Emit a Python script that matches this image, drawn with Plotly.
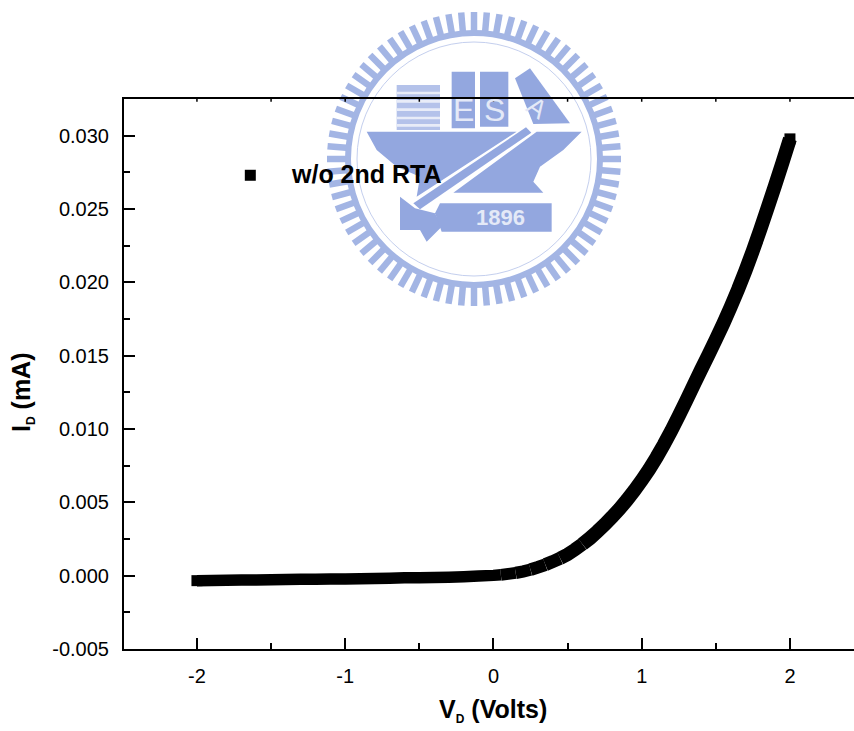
import math
import plotly.graph_objects as go

# ---- data ----
V_curve = [-2.0,-1.9,-1.8,-1.7,-1.6,-1.5,-1.4,-1.3,-1.2,-1.1,-1.0,-0.9,-0.8,-0.7,-0.6,-0.5,-0.4,-0.3,-0.2,-0.1,
           0.00,0.05,0.10,0.15,0.20,0.25,0.30,0.35,0.40,0.45,0.50,0.55,0.60,0.65,0.70,0.75,0.80,0.85,0.90,0.95,
           1.00,1.05,1.10,1.15,1.20,1.25,1.30,1.35,1.40,1.45,1.50,1.55,1.60,1.65,1.70,1.75,1.80,1.85,1.90,1.95,2.00]
I_curve = [-0.00034,-0.00033,-0.00032,-0.00030,-0.00029,-0.00027,-0.00026,-0.00025,-0.00024,-0.00023,-0.00022,
           -0.00021,-0.00019,-0.00017,-0.00015,-0.00014,-0.00012,-0.00010,-0.00007,-0.00003,
           0.00002,0.00006,0.00012,0.00019,0.00028,0.00041,0.00057,0.00075,0.00096,0.00119,0.00145,0.00178,0.00215,
           0.00255,0.00300,0.00348,0.00400,0.00455,0.00515,0.00580,0.00650,0.00725,0.00807,0.00895,0.00989,0.01089,
           0.01193,0.01298,0.01403,0.01505,0.01610,0.01718,0.01832,0.01952,0.02080,0.02216,0.02360,0.02510,0.02662,
           0.02818,0.02978]
x_ticks = [-2,-1,0,1,2]
x_tick_text = ["-2","-1","0","1","2"]
x_minor = [-1.5,-0.5,0.5,1.5]
x_top_ticks = [-2.0,-1.5,-1.0,-0.5,0,0.5,1.0,1.5,2.0]
y_ticks = [-0.005,0.000,0.005,0.010,0.015,0.020,0.025,0.030]
y_tick_text = ["-0.005","0.000","0.005","0.010","0.015","0.020","0.025","0.030"]
y_minor = [-0.0025,0.0025,0.0075,0.0125,0.0175,0.0225,0.0275,0.0325]
legend_label = "w/o 2nd RTA"
legend_x, legend_y = [-1.64], [0.0273]

L, R, T, B = 124, 854, 99, 649
FONT = "Liberation Sans"
WM = "#93a7df"
WM2 = "#a3b5e4"

def fx(x): return (x - L) / (R - L)
def fy(y): return (B - y) / (B - T)

shapes, annos = [], []

def poly(points, color):
    """points in zoom-crop coordinates of the seal"""
    pts = [(fx(320 + a / 3), fy(b / 3)) for a, b in points]
    d = "M " + " L ".join(f"{a:.5f} {b:.5f}" for a, b in pts) + " Z"
    shapes.append(dict(type="path", path=d, xref="paper", yref="paper", fillcolor=color,
                       line=dict(width=0), layer="below"))

# seal: gear teeth
cx, cy = 474, 159
N = 72
for k in range(N):
    a = 2 * math.pi * k / N
    shapes.append(dict(type="line", xref="paper", yref="paper", layer="below",
                       x0=fx(cx + 125 * math.cos(a)), y0=fy(cy + 125 * math.sin(a)),
                       x1=fx(cx + 147 * math.cos(a)), y1=fy(cy + 147 * math.sin(a)),
                       line=dict(color=WM2, width=6.5)))
def circle(r, color, w):
    shapes.append(dict(type="circle", xref="paper", yref="paper", layer="below",
                       x0=fx(cx - r), x1=fx(cx + r), y0=fy(cy + r), y1=fy(cy - r),
                       line=dict(color=color, width=w)))
circle(126, WM2, 6)
circle(117, "#c4cfee", 1)

# seal: ship hull
poly([(140,395),(590,395),(290,590),(300,530),(230,500),(170,450)], WM)
poly([(650,395),(785,395),(730,450),(660,500),(640,545),(670,578),(400,578)], WM)
poly([(618,382),(634,398),(300,628),(280,610)], WM)
# seal: books
poly([(230,255),(360,255),(360,390),(230,390)], "#b4c2ea")
for yy in (275, 300, 325, 350, 372):
    poly([(230,yy),(360,yy),(360,yy+8),(230,yy+8)], "#e8ecf8")
poly([(395,215),(465,215),(465,385),(395,385)], WM)
poly([(480,215),(565,215),(565,380),(480,380)], WM)
poly([(585,235),(630,205),(750,370),(640,372)], WM)
# seal: handle band lower end and banner
poly([(240,590),(285,625),(345,640),(365,680),(320,725),(300,690),(240,690)], WM)
poly([(360,610),(695,610),(695,695),(365,695),(345,640)], WM)

for txt, a, b, s, ang in [("E",430,330,32,0),("S",522,330,32,0),("A",652,325,26,35),("1896",540,652,22,0)]:
    annos.append(dict(text=f"<b>{txt}</b>" if txt == "1896" else txt, xref="paper", yref="paper",
                      x=fx(320 + a / 3), y=fy(b / 3), textangle=ang,
                      showarrow=False, xanchor="center", yanchor="middle",
                      font=dict(family=FONT, size=s, color="#e4e9f7")))

# small ticks on the top line
for v in x_top_ticks:
    shapes.append(dict(type="line", xref="x", yref="paper", x0=v, x1=v, y0=1, y1=0.995,
                       line=dict(color="black", width=1.5)))

annos.append(dict(text=f"<b>{legend_label}</b>", xref="paper", yref="paper", x=fx(289), y=fy(174),
                  xanchor="left", yanchor="middle", showarrow=False,
                  font=dict(family=FONT, size=25, color="black")))

SUB = "<sub><span style='font-size:12px'>D</span></sub>"
annos.append(dict(text=f"<b>V{SUB} (Volts)</b>", xref="paper", yref="paper", x=fx(493), y=fy(710),
                  xanchor="center", yanchor="middle", showarrow=False,
                  font=dict(family=FONT, size=25, color="black")))
annos.append(dict(text=f"<b>I{SUB} (mA)</b>", xref="paper", yref="paper", x=fx(22), y=fy(392),
                  xanchor="center", yanchor="middle", showarrow=False, textangle=-90,
                  font=dict(family=FONT, size=25, color="black")))

fig = go.Figure()
# curve: the swept square marker gets wider as the slope rises, so width grows in small steps
breaks = [(-2.0, 0.05, 11.5), (0.05, 0.15, 11.9), (0.15, 0.25, 12.3), (0.25, 0.35, 12.7),
          (0.35, 0.45, 13.1), (0.45, 0.6, 13.5), (0.6, 2.0, 14)]
for lo, hi, w in breaks:
    idx = [i for i, v in enumerate(V_curve) if lo - 1e-9 <= v <= hi + 1e-9]
    fig.add_trace(go.Scatter(x=[V_curve[i] for i in idx], y=[I_curve[i] for i in idx], mode="lines",
                             line=dict(color="black", width=w, simplify=False),
                             showlegend=False, hoverinfo="skip"))
fig.add_trace(go.Scatter(x=[V_curve[0], V_curve[-1]], y=[I_curve[0], I_curve[-1]], mode="markers",
                         marker=dict(symbol="square", size=11, color="black", line=dict(width=0)),
                         showlegend=False, hoverinfo="skip"))
fig.add_trace(go.Scatter(x=legend_x, y=legend_y, mode="markers",
                         marker=dict(symbol="square", size=11, color="black", line=dict(width=0)),
                         showlegend=False, hoverinfo="skip"))

fig.update_layout(
    width=854, height=731, autosize=False,
    margin=dict(l=L, r=0, t=T, b=731 - B, pad=0),
    paper_bgcolor="white", plot_bgcolor="rgba(0,0,0,0)",
    font=dict(family=FONT, color="black", size=20),
    shapes=shapes, annotations=annos,
    xaxis=dict(range=[-2.492, 2.432], tickvals=x_ticks, ticktext=x_tick_text, ticks="inside", ticklen=11, tickwidth=1.5,
               tickcolor="black", showline=True, linecolor="black", linewidth=1.5, mirror=True,
               showgrid=False, zeroline=False, tickfont=dict(size=20, family=FONT), ticklabelstandoff=8,
               minor=dict(tickvals=x_minor, ticks="inside", ticklen=6, tickwidth=1.5, tickcolor="black", showgrid=False)),
    yaxis=dict(range=[-0.005, 0.0325], tickvals=y_ticks, ticktext=y_tick_text, ticks="inside", ticklen=11,
               tickwidth=2, tickcolor="black", showline=True, linecolor="black", linewidth=2,
               showgrid=False, zeroline=False, tickfont=dict(size=20, family=FONT), ticklabelstandoff=9,
               minor=dict(tickvals=y_minor, ticks="inside", ticklen=6, tickwidth=2, tickcolor="black", showgrid=False)),
)
fig.write_html("out.html", config={"displayModeBar": False},
               post_script="document.body.style.margin='0';document.documentElement.style.margin='0';")
